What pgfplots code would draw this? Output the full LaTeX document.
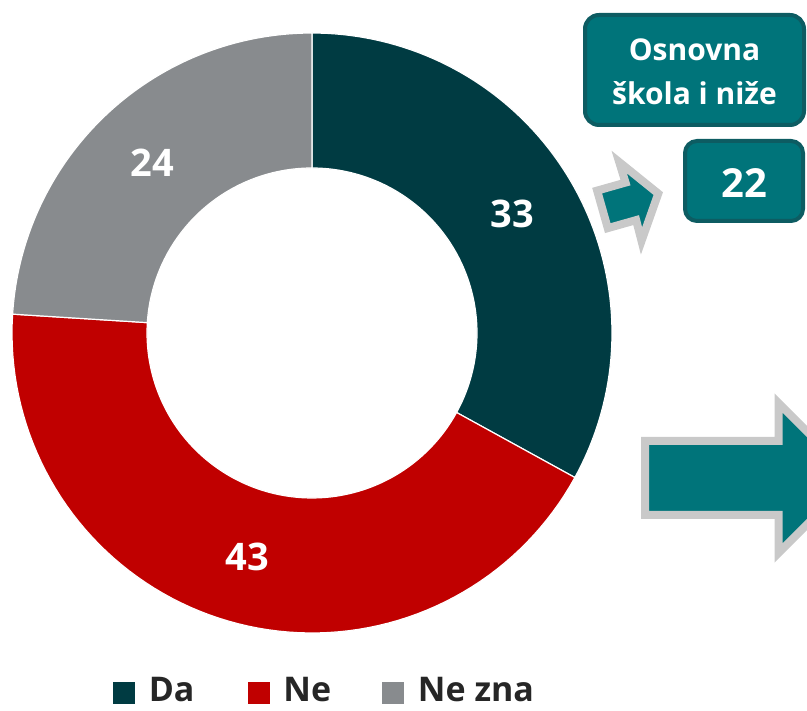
\documentclass[border=0pt]{standalone}
\usepackage{pgfplots}
\pgfplotsset{compat=1.18}
\usepackage{fontspec}
\setmainfont{Open Sans}
\definecolor{cDa}{HTML}{003B42}
\definecolor{cNe}{HTML}{C00000}
\definecolor{cNz}{HTML}{888B8E}
\definecolor{boxteal}{HTML}{00747A}
\definecolor{boxborder}{HTML}{0D5C62}
\definecolor{arrgrey}{HTML}{C9C9C9}
\definecolor{legtext}{HTML}{262626}
% values (percent)
\def\vDa{33}
\def\vNe{43}
\def\vNz{24}
\pgfmathsetmacro\aA{90}
\pgfmathsetmacro\aB{90-3.6*\vDa}
\pgfmathsetmacro\aC{\aB-3.6*\vNe}
\pgfmathsetmacro\aD{\aC-3.6*\vNz}
\def\cx{312}\def\cy{378}\def\Ro{300}\def\Ri{165}
% outer arc for t in [0,1], inner arc (reversed) for t in (1,2]
\newcommand\sector[3]{%
  \addplot[fill=#3, draw=white, line width=1.2pt, domain=0:2, samples=161, variable=\t]
   ({\cx+((\t<=1)?\Ro:\Ri)*cos((\t<=1)?(#1+(#2-#1)*\t):(#2+(#1-#2)*max(\t-1.0125,0)/0.9875))},
    {\cy+((\t<=1)?\Ro:\Ri)*sin((\t<=1)?(#1+(#2-#1)*\t):(#2+(#1-#2)*max(\t-1.0125,0)/0.9875))}) -- cycle;}
\begin{document}
\begin{tikzpicture}
\begin{axis}[
  width=807pt, height=711pt, scale only axis,
  xmin=0, xmax=807, ymin=0, ymax=711,
  hide axis, clip=false,
  legend columns=3,
  legend image code/.code={\fill[draw=none] (0pt,-14pt) rectangle (22pt,8pt); \path (35pt,0pt);},
  legend style={at={(axis cs:113,7)}, anchor=south west, draw=none, fill=none,
    inner sep=0pt, font=\fontsize{34}{40}\selectfont\bfseries, text=legtext,
    nodes={inner sep=0pt}},
]
\sector{\aA}{\aB}{cDa}
\addlegendentry{\makebox[99pt][l]{Da}}
\sector{\aB}{\aC}{cNe}
\addlegendentry{\makebox[99pt][l]{Ne}}
\sector{\aC}{\aD}{cNz}
\addlegendentry{Ne zna}
% value labels
\pgfmathsetmacro\mA{(\aA+\aB)/2}
\pgfmathsetmacro\mB{(\aB+\aC)/2}
\pgfmathsetmacro\mC{(\aC+\aD)/2}
\node[text=white, font=\fontsize{38}{44}\selectfont\bfseries] at (axis cs:{\cx+233*cos(\mA)},{\cy+233*sin(\mA)}) {\vDa};
\node[text=white, font=\fontsize{38}{44}\selectfont\bfseries] at (axis cs:{\cx+233*cos(\mB)},{\cy+233*sin(\mB)}) {\vNe};
\node[text=white, font=\fontsize{38}{44}\selectfont\bfseries] at (axis cs:{\cx+233*cos(\mC)},{\cy+233*sin(\mC)}) {\vNz};
\end{axis}
% callout boxes
\begin{scope}[x=1pt, y=1pt]
\draw[boxborder, fill=boxteal, line width=4pt, rounded corners=14pt] (585,586) rectangle (804,696);
\node[text=white, font=\fontsize{30}{36}\selectfont\bfseries] at (694.5,661) {Osnovna};
\node[text=white, font=\fontsize{30}{36}\selectfont\bfseries] at (694.5,618) {škola i niže};
\draw[boxborder, fill=boxteal, line width=4pt, rounded corners=12pt] (685,490) rectangle (803,570);
\node[text=white, font=\fontsize{40}{46}\selectfont\bfseries] at (744.5,528) {22};
% small arrow
\draw[arrgrey, fill=boxteal, line width=8pt, miter limit=10, shift={(606.3,502.7)}, rotate=15.8]
  (-4,19.5) -- (25.5,19.5) -- (25,41) -- (54,0) -- (25,-41) -- (25.5,-19.5) -- (-4,-19.5) -- cycle;
% big arrow
\draw[arrgrey, fill=boxteal, line width=8pt]
  (645,270) -- (778.5,270) -- (778.5,308) -- (853.5,233) -- (778.5,158) -- (778.5,196) -- (645,196) -- cycle;
\end{scope}
\pgfresetboundingbox
\path[use as bounding box] (0,0) rectangle (807pt,711pt);
\end{tikzpicture}
\end{document}
